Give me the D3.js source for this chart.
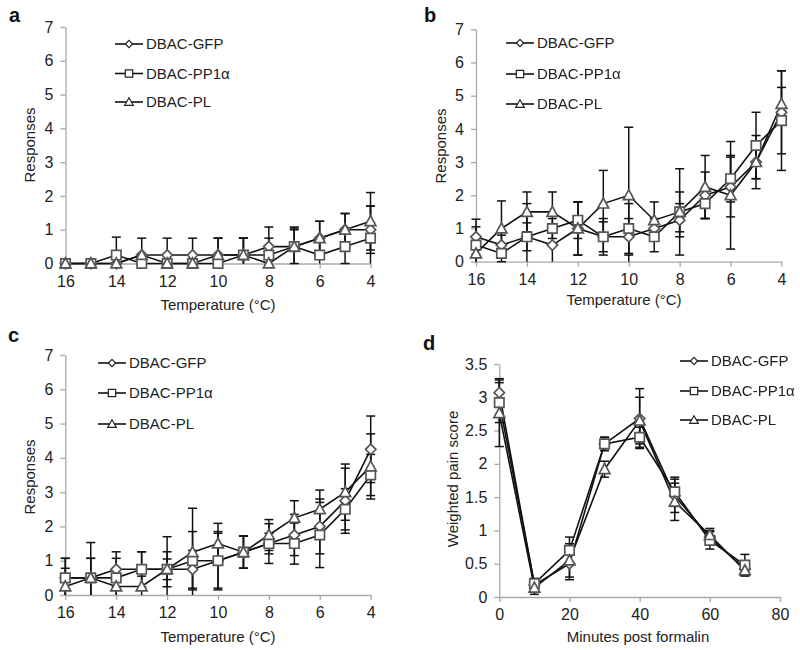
<!DOCTYPE html>
<html><head><meta charset="utf-8">
<script src="https://cdn.jsdelivr.net/npm/d3@7"></script>
<style>
body{margin:0;background:#fff;}
svg{display:block;font-family:"Liberation Sans",Arial,sans-serif;}
</style></head>
<body><svg id="chart" width="800" height="650"></svg>
<script>
// ---------- data ----------
const seriesNames = ["DBAC-GFP", "DBAC-PP1\u03b1", "DBAC-PL"];
const tempX = [16,15,14,13,12,11,10,9,8,7,6,5,4];
const tempTicks = [16,14,12,10,8,6,4];
const respTicks = [0,1,2,3,4,5,6,7];
const minutesX = [0,10,20,30,40,50,60,70];
const minutesTicks = [0,20,40,60,80];
const painTicks = [0,0.5,1,1.5,2,2.5,3,3.5];

// panel a
const gfpA = [0,0,0,0.25,0.25,0.25,0.25,0.25,0.5,0.5,0.75,1.0,1.0];
const pp1A = [0,0,0.25,0,0,0,0,0.25,0.25,0.5,0.25,0.5,0.75];
const plA  = [0,0,0,0.25,0,0,0.25,0.25,0,0.5,0.75,1.0,1.25];
const gfpAErr = [0,0,0,0,0.5,0.5,0.5,0.5,0.58,0.55,0.5,0.48,0.7];
const pp1AErr = [0,0,0.53,0,0,0,0,0.5,0.5,0.5,0.5,0.5,0.95];
const plAErr  = [0,0,0,0.5,0,0,0.5,0.5,0,0.58,0.5,0.48,0.85];

// panel b
const gfpB = [0.75,0.5,0.75,0.5,1.0,0.75,0.75,1.0,1.25,2.0,2.25,3.0,4.5];
const pp1B = [0.5,0.25,0.75,1.0,1.25,0.75,1.0,0.75,1.5,1.75,2.5,3.5,4.25];
const plB  = [0.25,1.0,1.5,1.5,1.0,1.75,2.0,1.25,1.5,2.25,2.0,3.0,4.75];
const gfpBErr = [0.53,0.3,1.0,0.6,0.8,0.55,0.55,0.3,0.5,0.7,0.9,0.8,1.25];
const pp1BErr = [0.55,0.25,0.42,0.3,0.55,0.45,0.75,0.45,0.6,0.45,0.7,1.0,1.5];
const plBErr  = [0.3,0.83,0.6,0.6,0.8,1.0,2.05,0.55,1.3,0.95,1.62,0.5,0.5];

// panel c
const gfpC = [0.5,0.5,0.75,0.75,0.75,0.75,1.0,1.25,1.5,1.75,2.0,2.75,4.25];
const pp1C = [0.5,0.5,0.5,0.75,0.75,1.0,1.0,1.25,1.5,1.5,1.75,2.5,3.5];
const plC  = [0.25,0.5,0.25,0.25,0.75,1.25,1.5,1.25,1.75,2.25,2.5,3.0,3.75];
const gfpCErr = [0.57,1.03,0.51,0.51,0.95,0.55,0.8,0.47,0.3,0.6,0.8,0.95,0.97];
const pp1CErr = [0.57,0.57,0.57,0.51,0.51,0.85,0.85,0.47,0.58,0.6,0.95,0.6,0.6];
const plCErr  = [0.53,0.57,0.3,0.3,0.3,1.28,0.59,0.47,0.45,0.5,0.56,0.82,0.95];

// panel d
const gfpD = [3.07,0.18,0.5,2.3,2.68,1.52,0.9,0.42];
const pp1D = [2.92,0.2,0.7,2.3,2.4,1.58,0.85,0.48];
const plD  = [2.76,0.14,0.55,1.92,2.65,1.43,0.93,0.4];
const gfpDErr = [0.21,0.08,0.24,0.1,0.45,0.25,0.1,0.1];
const pp1DErr = [0.3,0.08,0.2,0.1,0.15,0.22,0.13,0.16];
const plDErr  = [0.5,0.1,0.25,0.12,0.35,0.28,0.1,0.08];

// ---------- drawing ----------
const svg = d3.select("#chart");
const defs = svg.append("defs");
defs.append("filter").attr("id","soft").attr("x","-50%").attr("y","-50%").attr("width","200%").attr("height","200%")
  .append("feGaussianBlur").attr("stdDeviation",0.6);

const markerPath = {
  diamond: "M0,-5.2L5.2,0L0,5.2L-5.2,0Z",
  square: "M-4.7,-4.7H4.7V4.7H-4.7Z",
  triangle: "M0,-5.6L5.4,4.4L-5.4,4.4Z"
};
const legendPath = {
  diamond: "M0,-3.6L3.6,0L0,3.6L-3.6,0Z",
  square: "M-3.7,-3.7H3.7V3.7H-3.7Z",
  triangle: "M0,-4.2L4.3,3.3L-4.3,3.3Z"
};
const shapes = ["diamond","square","triangle"];

function drawPanel(p){
  const g = svg.append("g");
  const x = d3.scaleLinear().domain(p.xDomain).range(p.xRange);
  const y = d3.scaleLinear().domain(p.yDomain).range(p.yRange);

  // axes
  const xa = g.append("g").attr("transform",`translate(0,${p.yRange[0]})`)
    .call(d3.axisBottom(x).tickValues(p.xTicks).tickFormat(d=>String(d))
      .tickSize(5).tickSizeOuter(0).tickPadding(7));
  const ya = g.append("g").attr("transform",`translate(${p.xRange[0]},0)`)
    .call(d3.axisLeft(y).tickValues(p.yTicks).tickFormat(d=>String(d))
      .tickSize(5).tickSizeOuter(0).tickPadding(7));
  [xa,ya].forEach(a=>{
    a.select(".domain").attr("stroke","#a8a8a8").attr("stroke-width",1.3);
    a.selectAll(".tick line").attr("stroke","#a8a8a8").attr("stroke-width",1.3);
    a.selectAll(".tick text").attr("fill","#222").style("font-size","16px");
  });

  // panel letter
  g.append("text").attr("x",p.letterPos[0]).attr("y",p.letterPos[1]).text(p.letter)
    .style("font-size","20px").style("font-weight","bold").attr("fill","#111");
  // axis titles
  g.append("text").attr("x",p.xTitlePos[0]).attr("y",p.xTitlePos[1]).attr("text-anchor","middle")
    .style("font-size","15px").attr("fill","#222").text(p.xTitle);
  g.append("text").attr("transform",`translate(${p.yTitlePos[0]},${p.yTitlePos[1]}) rotate(-90)`)
    .attr("text-anchor","middle").style("font-size","15px").attr("fill","#222").text(p.yTitle);

  const yMin = p.yDomain[0], yMax = p.yDomain[1];
  // error bars
  p.series.forEach(s=>{
    const eg = g.append("g").attr("stroke","#111").attr("stroke-width",1.5);
    s.values.forEach((v,i)=>{
      const e = s.err[i];
      if(!e) return;
      const xv = x(p.xValues[i]);
      const hi = Math.min(v+e,yMax), lo = Math.max(v-e,yMin);
      eg.append("line").attr("x1",xv).attr("x2",xv).attr("y1",y(hi)).attr("y2",y(lo));
      if(v+e<=yMax) eg.append("line").attr("x1",xv-4.5).attr("x2",xv+4.5).attr("y1",y(v+e)).attr("y2",y(v+e));
      if(v-e>=yMin) eg.append("line").attr("x1",xv-4.5).attr("x2",xv+4.5).attr("y1",y(v-e)).attr("y2",y(v-e));
    });
  });
  // lines and markers
  const line = d3.line().x((d,i)=>x(p.xValues[i])).y(d=>y(d));
  p.series.forEach(s=>{
    g.append("path").datum(s.values).attr("d",line).attr("fill","none")
      .attr("stroke","#111").attr("stroke-width",1.6);
  });
  p.series.forEach((s,si)=>{
    g.append("g").attr("filter","url(#soft)").selectAll("path").data(s.values).join("path")
      .attr("d",markerPath[shapes[si]])
      .attr("transform",(d,i)=>`translate(${x(p.xValues[i])},${y(d)})`)
      .attr("fill","#fff").attr("stroke","#555").attr("stroke-width",1.7);
  });

  // legend
  seriesNames.forEach((name,i)=>{
    const ly = p.legendY[i];
    const lx = p.legendX;
    g.append("line").attr("x1",lx).attr("x2",lx+28).attr("y1",ly).attr("y2",ly)
      .attr("stroke","#111").attr("stroke-width",1.6);
    g.append("path").attr("d",legendPath[shapes[i]]).attr("transform",`translate(${lx+14},${ly})`)
      .attr("fill","#fff").attr("stroke","#222").attr("stroke-width",1.2);
    g.append("text").attr("x",lx+31).attr("y",ly).attr("dy","0.36em")
      .style("font-size","15px").attr("fill","#222").text(name);
  });
}

drawPanel({
  letter:"a", letterPos:[9,22],
  xDomain:[16,4], xRange:[65.5,370.5], yDomain:[0,7], yRange:[263.5,27],
  xTicks:tempTicks, yTicks:respTicks, xValues:tempX,
  xTitle:"Temperature (\u00b0C)", xTitlePos:[218,310], yTitle:"Responses", yTitlePos:[35,145],
  legendX:115, legendY:[44,73.5,102],
  series:[{values:gfpA,err:gfpAErr},{values:pp1A,err:pp1AErr},{values:plA,err:plAErr}]
});
drawPanel({
  letter:"b", letterPos:[424,22],
  xDomain:[16,4], xRange:[476,781.5], yDomain:[0,7], yRange:[261.7,29.3],
  xTicks:tempTicks, yTicks:respTicks, xValues:tempX,
  xTitle:"Temperature (\u00b0C)", xTitlePos:[624,305], yTitle:"Responses", yTitlePos:[446,146],
  legendX:506, legendY:[43,74,104],
  series:[{values:gfpB,err:gfpBErr},{values:pp1B,err:pp1BErr},{values:plB,err:plBErr}]
});
drawPanel({
  letter:"c", letterPos:[8,342],
  xDomain:[16,4], xRange:[65.3,370.7], yDomain:[0,7], yRange:[595,355],
  xTicks:tempTicks, yTicks:respTicks, xValues:tempX,
  xTitle:"Temperature (\u00b0C)", xTitlePos:[218,642], yTitle:"Responses", yTitlePos:[35,477],
  legendX:98, legendY:[363,393,424],
  series:[{values:gfpC,err:gfpCErr},{values:pp1C,err:pp1CErr},{values:plC,err:plCErr}]
});
drawPanel({
  letter:"d", letterPos:[423,350],
  xDomain:[0,80], xRange:[499.3,780], yDomain:[0,3.5], yRange:[597,364],
  xTicks:minutesTicks, yTicks:painTicks, xValues:minutesX,
  xTitle:"Minutes post formalin", xTitlePos:[638,642], yTitle:"Weighted pain score", yTitlePos:[458,479],
  legendX:680, legendY:[361,391,420],
  series:[{values:gfpD,err:gfpDErr},{values:pp1D,err:pp1DErr},{values:plD,err:plDErr}]
});
</script></body></html>
